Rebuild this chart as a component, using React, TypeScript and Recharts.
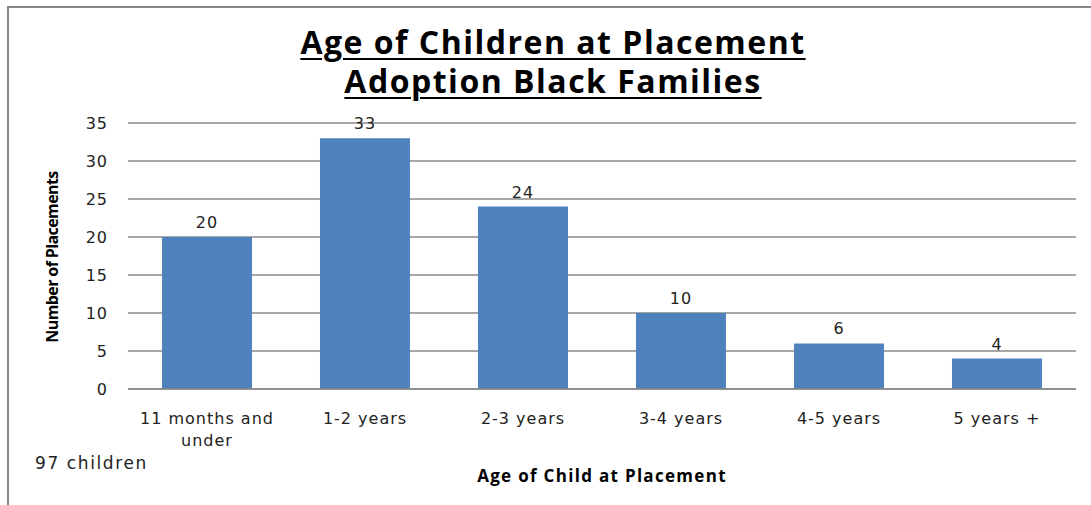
import React from 'react';
import { BarChart, Bar, XAxis, YAxis, CartesianGrid, LabelList, Text } from 'recharts';

const categories = ['11 months and under', '1-2 years', '2-3 years', '3-4 years', '4-5 years', '5 years +'];
const placements = [20, 33, 24, 10, 6, 4];
const yTicks = [0, 5, 10, 15, 20, 25, 30, 35];

const data = categories.map((age, i) => ({ age, count: placements[i] }));

const FONT = '"Open Sans", sans-serif';
const TICK_FONT = '"DejaVu Sans", sans-serif';
const tickStyle = { fontFamily: TICK_FONT, fontSize: 16, letterSpacing: 1 };

function AgeTick(props: any) {
  const { x, y, payload } = props;
  return (
    <Text
      x={x}
      y={y}
      width={150}
      style={tickStyle}
      textAnchor="middle"
      verticalAnchor="start"
      fill="#222"
      lineHeight={22}
    >
      {payload.value}
    </Text>
  );
}

export default function App() {
  return (
    <div style={{ position: 'absolute', left: 0, top: 0, width: 1091, height: 505, background: '#fff', fontFamily: FONT }}>
      <BarChart
        width={1091}
        height={505}
        data={data}
        margin={{ top: 123, right: 15, bottom: 56, left: 68 }}
        barCategoryGap="21.5%"
      >
        <CartesianGrid vertical={false} stroke="#888" strokeWidth={1.5} />
        <XAxis
          dataKey="age"
          height={60}
          tick={<AgeTick />}
          tickLine={false}
          axisLine={{ stroke: '#888', strokeWidth: 1.5 }}
          tickMargin={18}
          interval={0}
        />
        <YAxis
          width={60}
          domain={[0, 35]}
          ticks={yTicks}
          tickLine={false}
          axisLine={false}
          tickMargin={14}
          tick={{ ...tickStyle, fill: '#222' }}
        />
        <Bar dataKey="count" fill="#4F81BD" isAnimationActive={false}>
          <LabelList dataKey="count" position="top" offset={9} {...tickStyle} fill="#222" />
        </Bar>
      </BarChart>
      <div style={{ position: 'absolute', left: 8, top: 6, right: 0, height: 2, background: '#888', zIndex: 2 }} />
      <div style={{ position: 'absolute', left: 7, top: 6, width: 2, bottom: 0, background: '#888', zIndex: 2 }} />
      <div
        style={{
          position: 'absolute',
          left: 0,
          width: 1106,
          top: 22,
          textAlign: 'center',
          fontWeight: 700,
          fontSize: 32,
          letterSpacing: 1.5,
          lineHeight: '39px',
          color: '#000',
          textDecoration: 'underline',
          textUnderlineOffset: 4,
          textDecorationThickness: 2,
          zIndex: 2,
        }}
      >
        Age of Children at Placement
        <br />
        Adoption Black Families
      </div>
      <div
        style={{
          position: 'absolute',
          left: 52,
          top: 257,
          transform: 'translate(-50%, -50%) rotate(-90deg)',
          whiteSpace: 'nowrap',
          fontWeight: 700,
          fontSize: 16,
          letterSpacing: -0.6,
          color: '#000',
          zIndex: 2,
        }}
      >
        Number of Placements
      </div>
      <div
        style={{ position: 'absolute', left: 35, top: 453, fontFamily: TICK_FONT, fontSize: 17, letterSpacing: 1.6, color: '#222', zIndex: 2 }}
      >
        97 children
      </div>
      <div
        style={{
          position: 'absolute',
          left: 0,
          width: 1204,
          top: 464,
          textAlign: 'center',
          fontSize: 17,
          letterSpacing: 1.3,
          fontWeight: 700,
          color: '#000',
          zIndex: 2,
        }}
      >
        Age of Child at Placement
      </div>
    </div>
  );
}
